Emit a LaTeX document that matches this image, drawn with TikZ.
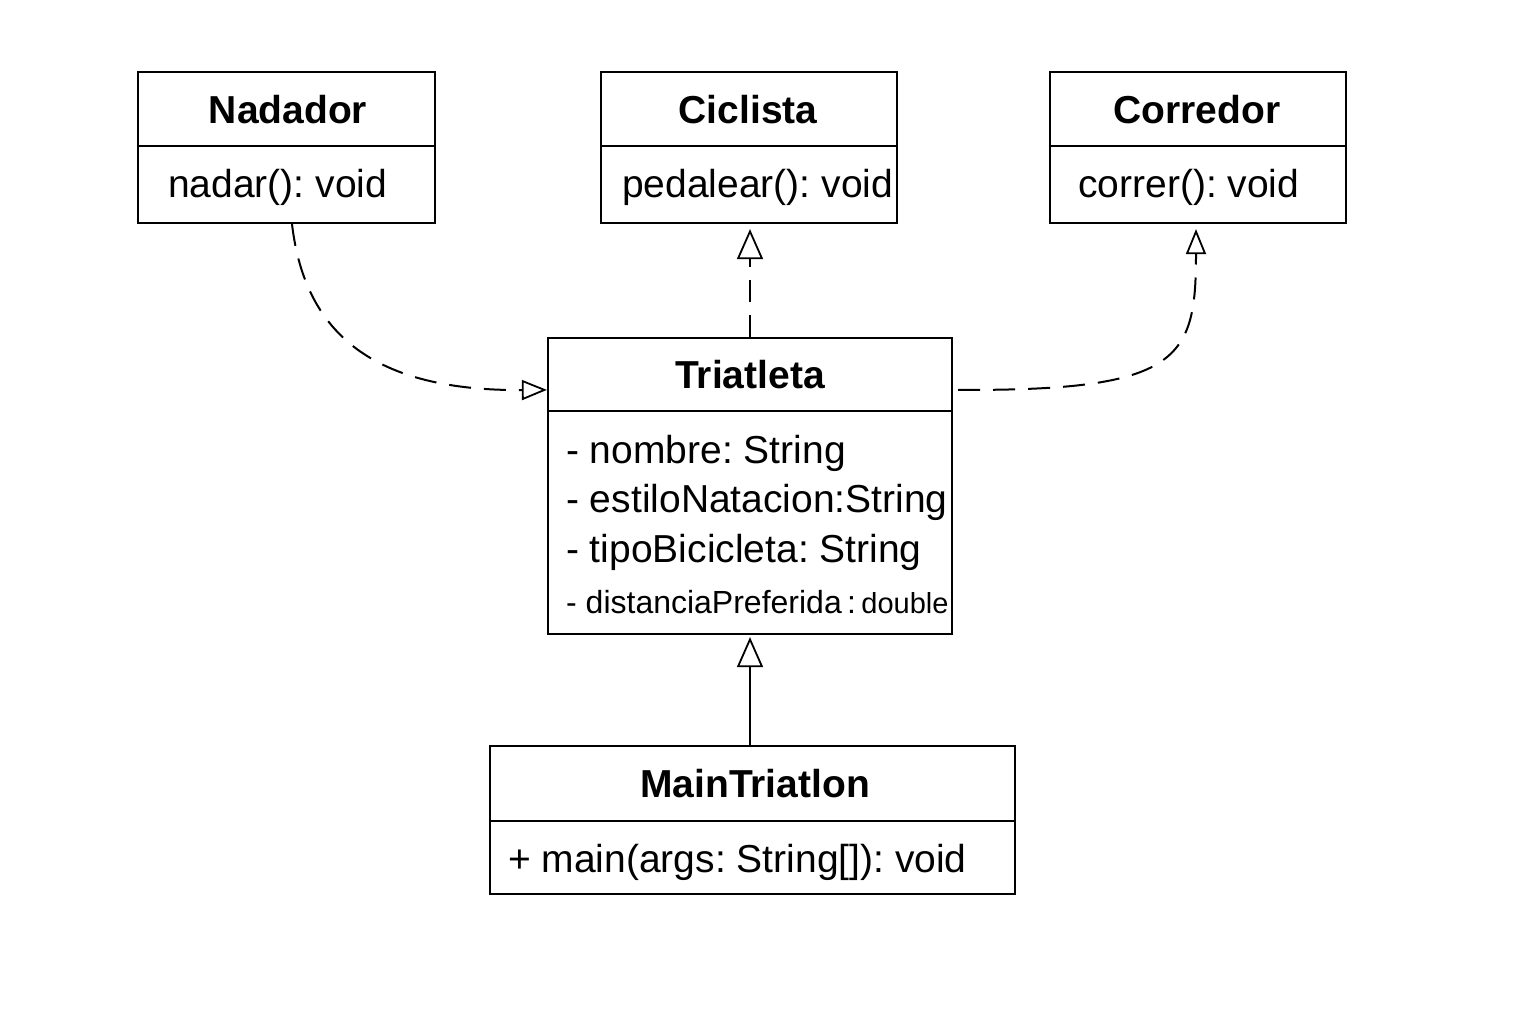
\documentclass[tikz,border=0pt]{standalone}
\usepackage{fontspec}
\setmainfont{Liberation Sans}
\usetikzlibrary{arrows.meta}
\frenchspacing
\begin{document}
\begin{tikzpicture}[x=1pt,y=-1pt,
  cls/.style={draw, line width=2.2pt, rectangle, inner sep=0pt},
  divider/.style={line width=2.2pt},
  title/.style={font=\fontsize{39}{44}\selectfont\bfseries, inner sep=0pt, anchor=base},
  member/.style={font=\fontsize{39}{44}\selectfont, inner sep=0pt, anchor=base west},
  conn/.style={line width=2pt},
  dashconn/.style={conn, dash pattern=on 22pt off 13pt},
  smalltip/.style={-{Triangle[open, length=25pt, width=20pt, line width=1.8pt]}},
  bigtip/.style={-{Triangle[open, length=30pt, width=26pt, line width=1.8pt]}}
]
\useasboundingbox (0,0) rectangle (1536,1024);
\fill[white] (0,0) rectangle (1536,1024);

% Nadador
\node[cls, minimum width=297pt, minimum height=151pt] (nad) at (286.5,147.5) {};
\draw[divider] (nad.west |- 0,146) -- (nad.east |- 0,146);
\node[title] (nadT) at (288,124) {Nadador};
\node[member] (nadM) at (168,198) {nadar(): void};

% Ciclista
\node[cls, minimum width=296pt, minimum height=151pt] (cic) at (749,147.5) {};
\draw[divider] (cic.west |- 0,146) -- (cic.east |- 0,146);
\node[title] (cicT) at (748,124) {Ciclista};
\node[member] (cicM) at (622,198) {pedalear(): void};

% Corredor
\node[cls, minimum width=296pt, minimum height=151pt] (cor) at (1198,147.5) {};
\draw[divider] (cor.west |- 0,146) -- (cor.east |- 0,146);
\node[title] (corT) at (1197,124) {Corredor};
\node[member] (corM) at (1078,198) {correr(): void};

% Triatleta
\node[cls, minimum width=404pt, minimum height=296pt] (tri) at (750,486) {};
\draw[divider] (tri.west |- 0,411) -- (tri.east |- 0,411);
\node[title] (triT) at (750,388) {Triatleta};
\node[member] (triA) at (566,463) {- nombre: String};
\node[member] (triB) at (566,512) {- estiloNatacion:String};
\node[member] (triC) at (566,562) {- tipoBicicleta: String};
\node[member, font=\fontsize{32}{36}\selectfont] (triD) at (566,613) {- distanciaPreferida\,:\,{\fontsize{29}{34}\selectfont double}};

% MainTriatlon
\node[cls, minimum width=525pt, minimum height=148pt] (mt) at (752.5,820) {};
\draw[divider] (mt.west |- 0,821) -- (mt.east |- 0,821);
\node[title] (mtT) at (755,797) {MainTriatlon};
\node[member] (mtM) at (508,872) {+ main(args: String[]): void};

% Connectors
\draw[dashconn, smalltip] ([xshift=5.5pt]nad.south) .. controls (305,335) and (375,391) .. ([yshift=-53pt]tri.north west);
\draw[dashconn, bigtip] (tri.north) -- ([yshift=-5pt]tri.north |- cic.south);
\draw[dashconn, smalltip] ([xshift=5pt,yshift=-53pt]tri.north east) .. controls (1180,391) and (1196,360) .. ([yshift=-5pt,xshift=-2pt]cor.south);
\draw[conn, bigtip] (mt.north -| tri.south) -- ([yshift=-2pt]tri.south);
\end{tikzpicture}
\end{document}
